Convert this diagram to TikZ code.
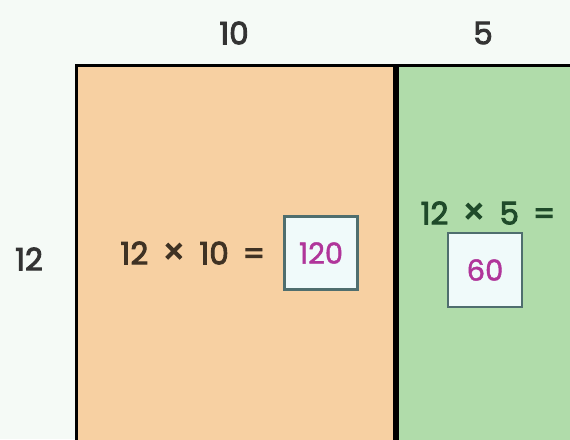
\documentclass[tikz,border=0pt]{standalone}
\usepackage{fontspec}
\setmainfont{Poppins}
\newfontfamily\numfont{Poppins}[FakeBold=3]
\newfontfamily\ansfont{Poppins}[FakeBold=1.5]
\usetikzlibrary{positioning}
\definecolor{paper}{HTML}{F5FAF6}
\definecolor{peach}{HTML}{F7D0A2}
\definecolor{mint}{HTML}{B0DCAA}
\definecolor{ink}{HTML}{333333}
\definecolor{brownink}{HTML}{3F3224}
\definecolor{greenink}{HTML}{1F4A2A}
\definecolor{answer}{HTML}{B0359A}
\definecolor{boxfill}{HTML}{F0FAFA}
\definecolor{boxedge}{HTML}{4F6E6E}
\newcommand{\gap}{\hspace{14pt}}
\newcommand{\timessign}{{\fontsize{36}{34}\selectfont ×}}
\begin{document}
\begin{tikzpicture}[x=1pt,y=-1pt,
  lbl/.style={font=\fontsize{31}{34}\numfont,text=ink,inner sep=0pt},
  part/.style={draw=black,line width=3pt,anchor=north west,inner sep=0pt,minimum height=380pt},
  ansbox/.style={draw=boxedge,line width=2.2pt,fill=boxfill,inner sep=0pt,minimum width=73pt,minimum height=73pt,
    font=\fontsize{29}{32}\ansfont,text=answer}]
 \fill[paper] (0,0) rectangle (570,439);
 \clip (0,0) rectangle (570,439);
 % area model
 \node[part,fill=peach,minimum width=318pt] (ten) at (75,64) {};
 \node[part,fill=mint,minimum width=250pt] (five) at (ten.north east) {};
 % side lengths
 \node[lbl] (w10) at (234,33) {10};
 \node[lbl] (w5) at (483,33) {5};
 \node[lbl] (h12) at (29,259) {12};
 % products
 \node[ansbox] (ans10) at (321,253) {120};
 \node[lbl,text=brownink,left=18pt of ans10] (prod10) {12\gap\timessign\gap10\gap=};
 \node[ansbox,minimum width=74pt,minimum height=74pt] (ans5) at (485,270) {60};
 \node[lbl,text=greenink] (prod5) at (488,213) {12\gap\timessign\gap5\gap=};
\end{tikzpicture}
\end{document}
